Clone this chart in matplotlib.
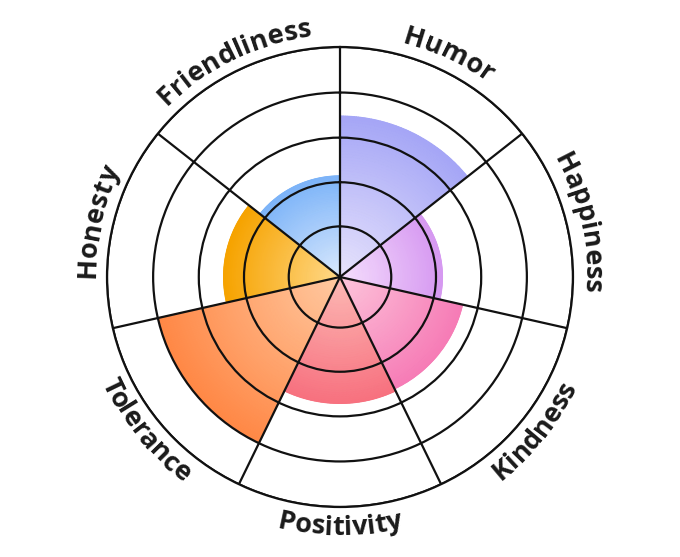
import numpy as np
import matplotlib.pyplot as plt
from matplotlib.colors import LinearSegmentedColormap
from matplotlib.font_manager import FontProperties

# sectors clockwise from the top
traits = ["Humor", "Happiness", "Kindness", "Positivity",
          "Tolerance", "Honesty", "Friendliness"]
scores = [3.5, 2.2, 2.7, 2.75, 4.0, 2.5, 2.2]
inner_colors = ["#e8e4fc", "#f6e0fd", "#fdc6dc", "#fcbab6",
                "#ffcaa2", "#ffd98a", "#dbeafd"]
outer_colors = ["#a5a6f6", "#d699f1", "#f67cb6", "#f7717f",
                "#ff8846", "#f6a300", "#7db4f8"]
ring_levels = [1.1, 2.06, 3.03, 4.01, 5.0]
r_max = 5.0

W, H = 680, 557
cx, cy = 340, 280          # centre in pixels, from bottom-left
rx, ry = 233, 230          # outer circle radii in pixels

fig = plt.figure(figsize=(W / 100, H / 100), dpi=100)
ax = fig.add_axes([(cx - rx) / W, (cy - ry) / H, 2 * rx / W, 2 * ry / H],
                  projection="polar")
ax.set_aspect("auto")
ax.set_theta_zero_location("N")
ax.set_theta_direction(-1)

n = len(traits)
step = 2 * np.pi / n
for i, (val, c0, c1) in enumerate(zip(scores, inner_colors, outer_colors)):
    cmap = LinearSegmentedColormap.from_list("s%d" % i, [c0, c1])
    th = np.linspace(i * step, (i + 1) * step, 80)
    rr = np.linspace(0, val, 60)
    T, R = np.meshgrid(th, rr)
    ax.pcolormesh(T, R, R / val, cmap=cmap, vmin=0, vmax=1,
                  shading="gouraud", zorder=0.5)

ax.set_ylim(0, r_max)
ax.set_rgrids(ring_levels, labels=[""] * len(ring_levels))
ax.set_thetagrids(np.degrees(np.arange(n) * step), labels=[""] * n)
ax.grid(True, color="#111111", linewidth=1.6)
ax.set_axisbelow(False)
ax.spines["polar"].set_color("#111111")
ax.spines["polar"].set_linewidth(1.6)
ax.tick_params(length=0)

# curved labels
fp = FontProperties(family=["Open Sans", "DejaVu Sans"], weight="bold", size=19.5)
fig.canvas.draw()
renderer = fig.canvas.get_renderer()


def text_w(s):
    if not s:
        return 0.0
    w, _, _ = renderer.get_text_width_height_descent(s, fp, ismath=False)
    return w


def arc_label(label, ang, top):
    total = text_w(label)
    off = 12 if top else 28
    rad = (rx + ry) / 2 + off
    for k, ch in enumerate(label):
        s = (text_w(label[:k]) + text_w(label[:k + 1])) / 2 - total / 2
        if top:
            phi = ang - s / rad
            rot = np.degrees(phi) - 90
        else:
            phi = ang + s / rad
            rot = np.degrees(phi) + 90
        x = cx + (rx + off) * np.cos(phi)
        y = cy + (ry + off) * np.sin(phi)
        fig.text(x / W, y / H, ch, fontproperties=fp, color="#1a1a1a",
                 rotation=rot, rotation_mode="anchor",
                 ha="center", va="baseline")


for i, lab in enumerate(traits):
    ang = np.radians(90 - (i + 0.5) * 360 / n)
    top = np.sin(ang) > -0.2
    arc_label(lab, ang, top)

fig.savefig("out.png", dpi=100)
